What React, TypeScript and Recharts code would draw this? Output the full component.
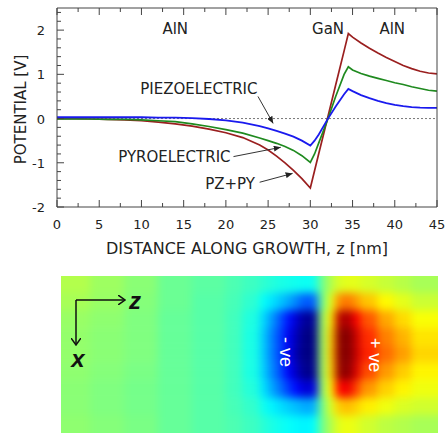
import React from "react";
import {
  LineChart,
  Line,
  XAxis,
  YAxis,
  ReferenceLine,
  ReferenceDot,
  BarChart,
  Bar,
  Cell,
} from "recharts";

// distance along growth, z [nm]
const zNm = [
  0, 2, 4, 6, 8, 10, 12, 14, 16, 18, 20, 22, 24, 25, 26, 27, 28, 29, 30, 30.5,
  31, 32, 33, 34, 34.5, 35, 36, 37, 38, 39, 40, 41, 42, 43, 44, 45,
];

// potential [V]
const pzpy = [
  0, 0, -0.01, -0.02, -0.03, -0.05, -0.08, -0.12, -0.17, -0.24, -0.32, -0.43,
  -0.6, -0.71, -0.85, -1.0, -1.17, -1.36, -1.57, -1.18, -0.79, -0.02, 0.76,
  1.53, 1.92, 1.84, 1.71, 1.59, 1.48, 1.38, 1.29, 1.2, 1.13, 1.07, 1.03, 1.01,
];
const pyro = [
  -0.01, -0.01, -0.01, -0.02, -0.02, -0.03, -0.05, -0.07, -0.12, -0.18, -0.25,
  -0.33, -0.44, -0.5, -0.56, -0.63, -0.72, -0.84, -0.99, -0.8, -0.55, -0.05,
  0.5, 1.0, 1.17, 1.1, 1.02, 0.96, 0.91, 0.86, 0.81, 0.77, 0.72, 0.68, 0.64,
  0.62,
];
const piezo = [
  0.03, 0.03, 0.03, 0.03, 0.03, 0.03, 0.02, 0.02, 0.01, -0.01, -0.04, -0.09,
  -0.17, -0.22, -0.28, -0.34, -0.41, -0.5, -0.61, -0.5, -0.36, -0.03, 0.27,
  0.55, 0.67, 0.62, 0.53, 0.46, 0.4, 0.35, 0.31, 0.28, 0.26, 0.245, 0.24, 0.24,
];

const xTicks = [
  0, 2.5, 5, 7.5, 10, 12.5, 15, 17.5, 20, 22.5, 25, 27.5, 30, 32.5, 35, 37.5,
  40, 42.5, 45,
];
const yTicks = [
  -2, -1.8, -1.6, -1.4, -1.2, -1, -0.8, -0.6, -0.4, -0.2, 0, 0.2, 0.4, 0.6,
  0.8, 1, 1.2, 1.4, 1.6, 1.8, 2, 2.2, 2.4,
];

// z edges of the colour-map columns [nm]
const heatZEdges = [
  0, 4, 8, 12, 16, 20, 22, 24, 25, 26, 27, 28, 29, 30, 31, 32, 33, 34, 35, 36,
  38, 40, 42, 45,
];
// relative potential, one row per x slice (top to bottom)
const heatRows = [
  [0.1, 0.06, 0.02, -0.04, -0.07, -0.1, -0.13, -0.16, -0.18, -0.2, -0.21, -0.22, -0.23, -0.22, -0.02, 0.1, 0.18, 0.2, 0.2, 0.17, 0.14, 0.11, 0.08],
  [0.08, 0.05, 0.01, -0.04, -0.08, -0.11, -0.16, -0.24, -0.3, -0.36, -0.42, -0.5, -0.58, -0.55, -0.03, 0.2, 0.48, 0.52, 0.45, 0.36, 0.26, 0.2, 0.15],
  [0.05, 0.03, 0.0, -0.05, -0.08, -0.12, -0.19, -0.32, -0.45, -0.58, -0.72, -0.85, -0.96, -0.94, 0.04, 0.3, 0.88, 0.92, 0.76, 0.58, 0.42, 0.32, 0.24],
  [0.04, 0.02, 0.0, -0.05, -0.08, -0.12, -0.2, -0.35, -0.5, -0.62, -0.78, -0.9, -1.0, -0.98, 0.05, 0.36, 0.96, 1.0, 0.85, 0.66, 0.5, 0.4, 0.3],
  [0.04, 0.02, 0.0, -0.05, -0.08, -0.12, -0.2, -0.35, -0.5, -0.62, -0.78, -0.92, -1.0, -0.98, 0.05, 0.37, 0.96, 1.0, 0.86, 0.68, 0.54, 0.44, 0.33],
  [0.03, 0.01, -0.01, -0.05, -0.08, -0.12, -0.2, -0.34, -0.48, -0.6, -0.76, -0.88, -0.98, -0.96, 0.05, 0.35, 0.94, 0.98, 0.82, 0.6, 0.45, 0.35, 0.27],
  [0.02, 0.0, -0.02, -0.05, -0.08, -0.12, -0.18, -0.3, -0.42, -0.52, -0.64, -0.74, -0.84, -0.8, 0.03, 0.28, 0.74, 0.78, 0.62, 0.45, 0.34, 0.27, 0.22],
  [0.02, 0.0, -0.02, -0.05, -0.08, -0.11, -0.15, -0.22, -0.27, -0.31, -0.35, -0.38, -0.42, -0.4, -0.02, 0.18, 0.35, 0.38, 0.34, 0.28, 0.22, 0.18, 0.16],
  [0.03, 0.01, -0.01, -0.05, -0.08, -0.1, -0.13, -0.17, -0.2, -0.22, -0.24, -0.26, -0.27, -0.25, -0.02, 0.1, 0.2, 0.22, 0.2, 0.16, 0.12, 0.1, 0.08],
];

const data = zNm.map((z, i) => ({
  z,
  pzpy: pzpy[i],
  pyro: pyro[i],
  piezo: piezo[i],
}));

// colour map: each x slice is one stacked bar along z; the outer rows and
// columns are padded past the visible frame so the blur does not fade the edges
const PAD = 2;
const nCols = heatZEdges.length - 1;
const padRows = [heatRows[0], ...heatRows, heatRows[heatRows.length - 1]];
const heatData = padRows.map((row, r) => {
  const d: Record<string, number> = { row: r };
  for (let c = 0; c < nCols; c++) {
    const w = heatZEdges[c + 1] - heatZEdges[c];
    d[`c${c}`] = w + (c === 0 || c === nCols - 1 ? PAD : 0);
  }
  return d;
});
const colKeys = heatZEdges.slice(1).map((_, c) => `c${c}`);

const FONT = "'DejaVu Sans', Verdana, sans-serif";
const AXIS = "#444";
const PX_PER_NM = 380 / 45;
const ROW_PX = 157 / heatRows.length;

function jet(v: number) {
  const t = Math.max(0, Math.min(1, 0.5 + v / 2));
  const ch = (k: number) =>
    Math.round(255 * Math.max(0, Math.min(1, 1.5 - Math.abs(4 * t - k))));
  return `rgb(${ch(3)},${ch(2)},${ch(1)})`;
}

const isMajorX = (v: number) => v % 5 === 0;
const isMajorY = (v: number) => Math.abs(v - Math.round(v)) < 1e-6;

const BottomTick = ({ x, y, payload }: any) => {
  const major = isMajorX(payload.value);
  return (
    <g>
      <line x1={x} x2={x} y1={y} y2={y - (major ? 7 : 4)} stroke={AXIS} />
      {major && (
        <text x={x} y={y + 22} textAnchor="middle" fontSize={13} fill="#222" fontFamily={FONT}>
          {payload.value}
        </text>
      )}
    </g>
  );
};

const TopTick = ({ x, y, payload }: any) => (
  <line x1={x} x2={x} y1={y} y2={y + (isMajorX(payload.value) ? 7 : 4)} stroke={AXIS} />
);

const LeftTick = ({ x, y, payload }: any) => {
  const major = isMajorY(payload.value);
  return (
    <g>
      <line x1={x} x2={x + (major ? 7 : 4)} y1={y} y2={y} stroke={AXIS} />
      {major && (
        <text x={x - 12} y={y + 5} textAnchor="end" fontSize={13} fill="#222" fontFamily={FONT}>
          {Math.round(payload.value)}
        </text>
      )}
    </g>
  );
};

const RightTick = ({ x, y, payload }: any) => (
  <line x1={x} x2={x - (isMajorY(payload.value) ? 7 : 4)} y1={y} y2={y} stroke={AXIS} />
);

const noteStyle = { fontSize: 15, fill: "#222", fontFamily: FONT };
const heatFont = "'Liberation Sans', Arial, sans-serif";

export default function App() {
  // heat plot area in page pixels, padded around the visible 61..438 x 276..433 frame
  const chartTop = 250;
  const heatLeft = 57 - PAD * PX_PER_NM;
  const heatWidth = (45 + 2 * PAD) * PX_PER_NM;
  const heatTop = 276 - ROW_PX;
  const heatHeight = ROW_PX * padRows.length;
  return (
    <div style={{ position: "absolute", left: 0, top: 0, width: 446, height: 436, background: "#fff" }}>
      <svg width={0} height={0} style={{ position: "absolute" }}>
        <defs>
          <marker id="tip" markerWidth={7} markerHeight={6} refX={7} refY={3} orient="auto" markerUnits="userSpaceOnUse">
            <path d="M0,0 L7,3 L0,6 z" fill="#222" />
          </marker>
          <marker id="open" markerWidth={8} markerHeight={10} refX={7} refY={5} orient="auto" markerUnits="userSpaceOnUse">
            <path d="M0,0 L7,5 L0,10" fill="none" stroke="#111" strokeWidth={1.5} />
          </marker>
        </defs>
      </svg>

      <LineChart width={446} height={270} data={data} margin={{ top: 7, right: 8, bottom: 13, left: 0 }}>
        <XAxis
          dataKey="z"
          type="number"
          domain={[0, 45]}
          ticks={xTicks}
          interval={0}
          tickSize={0}
          tickMargin={0}
          tickLine={false}
          tick={BottomTick}
          height={50}
          stroke={AXIS}
          label={{ value: "DISTANCE ALONG GROWTH, z [nm]", position: "center", dy: 16, fontSize: 16, fill: "#222", fontFamily: FONT }}
        />
        <XAxis
          xAxisId="top"
          orientation="top"
          dataKey="z"
          type="number"
          domain={[0, 45]}
          ticks={xTicks}
          interval={0}
          tickSize={0}
          tickMargin={0}
          tickLine={false}
          tick={TopTick}
          height={1}
          stroke={AXIS}
        />
        <YAxis
          type="number"
          domain={[-2, 2.5]}
          ticks={yTicks}
          interval={0}
          tickSize={0}
          tickMargin={0}
          tickLine={false}
          tick={LeftTick}
          width={57}
          stroke={AXIS}
          label={{ value: "POTENTIAL [V]", angle: -90, position: "center", dx: -8, dy: 2, fontSize: 15, fill: "#222", fontFamily: FONT }}
        />
        <YAxis
          yAxisId="right"
          orientation="right"
          type="number"
          domain={[-2, 2.5]}
          ticks={yTicks}
          interval={0}
          tickSize={0}
          tickMargin={0}
          tickLine={false}
          tick={RightTick}
          width={1}
          stroke={AXIS}
        />
        <ReferenceLine y={0} stroke="#777" strokeDasharray="2 2" />
        <Line dataKey="pzpy" stroke="#9a1f1f" strokeWidth={1.7} dot={false} isAnimationActive={false} />
        <Line dataKey="pyro" stroke="#1f8a1f" strokeWidth={1.7} dot={false} isAnimationActive={false} />
        <Line dataKey="piezo" stroke="#1a1aee" strokeWidth={1.8} dot={false} isAnimationActive={false} />

        <ReferenceLine segment={[{ x: 23.8, y: 0.5 }, { x: 25.6, y: -0.11 }]} stroke="#333" markerEnd="url(#tip)" />
        <ReferenceLine segment={[{ x: 20.9, y: -0.86 }, { x: 26.5, y: -0.65 }]} stroke="#333" markerEnd="url(#tip)" />
        <ReferenceLine segment={[{ x: 24.0, y: -1.44 }, { x: 27.9, y: -1.24 }]} stroke="#333" markerEnd="url(#tip)" />

        <ReferenceDot x={14} y={2.03} r={0} label={{ value: "AlN", position: "center", ...noteStyle }} />
        <ReferenceDot x={32.1} y={2.03} r={0} label={{ value: "GaN", position: "center", ...noteStyle }} />
        <ReferenceDot x={39.7} y={2.03} r={0} label={{ value: "AlN", position: "center", ...noteStyle }} />
        <ReferenceDot x={16.8} y={0.68} r={0} label={{ value: "PIEZOELECTRIC", position: "center", ...noteStyle }} />
        <ReferenceDot x={13.9} y={-0.86} r={0} label={{ value: "PYROELECTRIC", position: "center", ...noteStyle }} />
        <ReferenceDot x={20.5} y={-1.47} r={0} label={{ value: "PZ+PY", position: "center", ...noteStyle }} />
      </LineChart>

      <div style={{ position: "absolute", left: 61, top: 276, width: 377, height: 157, overflow: "hidden" }}>
        <div style={{ position: "absolute", left: -61, top: chartTop - 276, filter: "blur(4px)" }}>
          <BarChart
            layout="vertical"
            width={470}
            height={heatTop - chartTop + heatHeight + 20}
            data={heatData}
            barCategoryGap={0}
            barGap={0}
            margin={{ top: heatTop - chartTop, left: heatLeft, right: 470 - heatLeft - heatWidth, bottom: 20 }}
          >
            <XAxis type="number" domain={[0, 45 + 2 * PAD]} hide />
            <YAxis type="category" dataKey="row" hide />
            {colKeys.map((k, c) => (
              <Bar key={k} dataKey={k} stackId="h" isAnimationActive={false}>
                {padRows.map((row, r) => (
                  <Cell key={r} fill={jet(row[c])} stroke={jet(row[c])} strokeWidth={1} />
                ))}
              </Bar>
            ))}
          </BarChart>
        </div>
      </div>

      <svg width={446} height={436} style={{ position: "absolute", left: 0, top: 0, pointerEvents: "none" }}>
        <line x1={76} y1={300} x2={125} y2={300} stroke="#111" strokeWidth={1.5} markerEnd="url(#open)" />
        <line x1={76} y1={300} x2={76} y2={345} stroke="#111" strokeWidth={1.5} markerEnd="url(#open)" />
        <text x={135} y={309} textAnchor="middle" fontSize={24} fontWeight="bold" fontStyle="italic" fill="#111" fontFamily={heatFont}>
          z
        </text>
        <text x={78} y={367} textAnchor="middle" fontSize={24} fontWeight="bold" fontStyle="italic" fill="#111" fontFamily={heatFont}>
          x
        </text>
        <text x={286} y={352} transform="rotate(90 286 352)" textAnchor="middle" dominantBaseline="central" fontSize={18} fill="#fff" fontFamily={heatFont}>
          - ve
        </text>
        <text x={375} y={355} transform="rotate(90 375 355)" textAnchor="middle" dominantBaseline="central" fontSize={18} fill="#fff" fontFamily={heatFont}>
          + ve
        </text>
      </svg>
    </div>
  );
}
